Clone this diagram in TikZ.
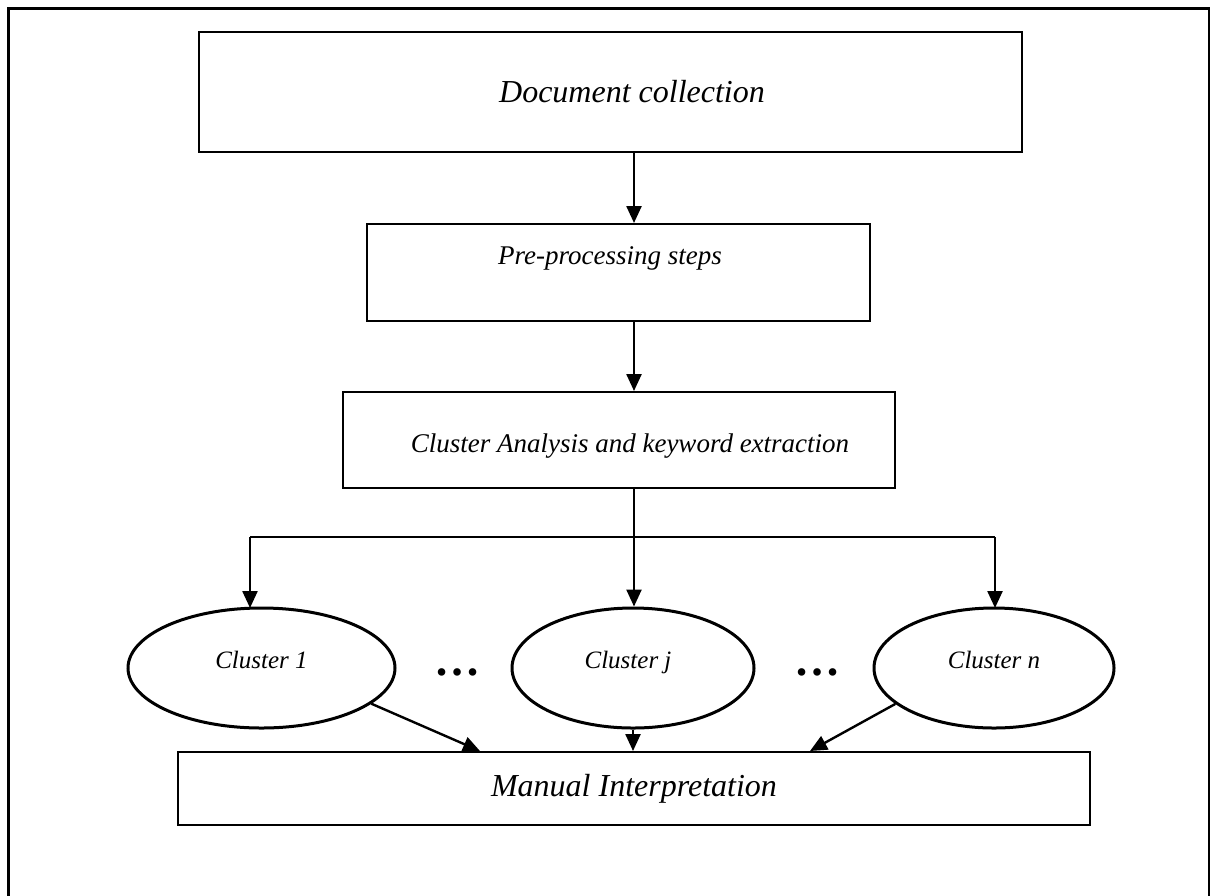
\documentclass[tikz,border=0pt]{standalone}
\usepackage{fontspec}
\setmainfont{Liberation Serif}
\usetikzlibrary{arrows.meta,shapes.geometric}
\begin{document}
\begin{tikzpicture}[x=1pt,y=-1pt,>={Triangle[length=17pt,width=15pt]},
  box/.style={draw,line width=2pt,inner sep=0pt,font=\fontsize{32}{38}\selectfont\itshape},
  clus/.style={draw,ellipse,line width=3pt,inner sep=0pt,minimum height=120pt,
    text height=10pt,text depth=10pt,font=\fontsize{25}{30}\selectfont\itshape},
  dots/.style={font=\fontsize{46}{50}\selectfont\bfseries},
  arr/.style={->,line width=2.4pt}]
\useasboundingbox (0,0) rectangle (1212,895);
\draw[line width=2.5pt] (8.5,930) |- (1209,8.5) -- (1209,930);
\node[box,minimum width=823pt,minimum height=120pt] (doc) at (610.5,92) {\hspace*{43pt}Document collection};
\node[box,minimum width=503pt,minimum height=97pt,text height=4pt,text depth=20pt,
  font=\fontsize{27}{32}\selectfont\itshape] (pre) at (618.5,272.5) {Pre-processing steps\hspace*{17pt}};
\node[box,minimum width=552pt,minimum height=96pt,text height=28pt,text depth=3pt,
  font=\fontsize{27}{32}\selectfont\itshape] (ana) at (619,440) {\hspace*{22pt}Cluster Analysis and keyword extraction};
\node[clus,minimum width=267pt] (c1) at (261.5,668) {Cluster 1};
\node[clus,minimum width=242pt] (cj) at (633,668) {Cluster j\hspace*{10pt}};
\node[clus,minimum width=240pt] (cn) at (994,668) {Cluster n};
\node[dots] (d1) at (457,672) {…};
\node[dots] (d2) at (817,672) {…};
\node[box,minimum width=912pt,minimum height=73pt] (man) at (634,788.5) {Manual Interpretation};
\coordinate (spine) at (634,537);
\draw[arr] (doc.south -| spine) -- (pre.north -| spine);
\draw[arr] (pre.south -| spine) -- (ana.north -| spine);
\draw[line width=2.4pt] (ana.south -| spine) -- (spine);
\draw[line width=2.4pt] ([xshift=-384pt]spine) -- ([xshift=361pt]spine);
\draw[arr] ([xshift=-384pt]spine) -- +(0,71);
\draw[arr] (spine) -- (cj.north -| spine);
\draw[arr] ([xshift=361pt]spine) -- +(0,71);
\draw[arr] (c1.-18) -- ([xshift=-154pt]man.north);
\draw[arr] (cj.south) -- (cj.south |- man.north);
\draw[arr] (cn.200) -- ([xshift=176pt]man.north);
\end{tikzpicture}
\end{document}
